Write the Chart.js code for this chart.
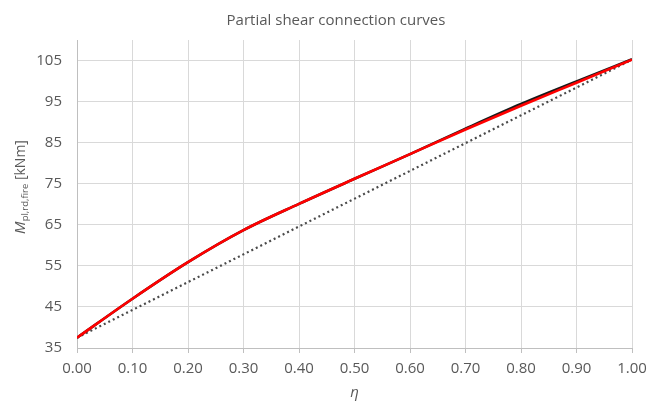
<!DOCTYPE html>
<html>
<head>
<meta charset="utf-8">
<script src="https://cdn.jsdelivr.net/npm/chart.js@4"></script>
<style>
  html, body { margin: 0; padding: 0; background: #fff; }
  #wrap { width: 650px; height: 405px; }
</style>
</head>
<body>
<div id="wrap"><canvas id="psc"></canvas></div>
<script>
const eta = [0.0, 0.1, 0.2, 0.3, 0.4, 0.5, 0.6, 0.7, 0.8, 0.9, 1.0]
const mRed = [37.5, 47.0, 55.9, 63.7, 70.1, 76.2, 82.2, 88.2, 94.0, 99.6, 105.2]
const mBlack = [37.5, 47.0, 55.9, 63.7, 70.1, 76.2, 82.2, 88.4, 94.4, 99.9, 105.3]
const etaLin = [0.0, 1.0]
const mLin = [37.5, 105.2]
const yTicks = [35, 45, 55, 65, 75, 85, 95, 105]

const grey = '#595959'
const fontFam = '"Open Sans", "Liberation Sans", sans-serif'

function pts(xs, ys) {
    return xs.map((x, i) => ({x: x, y: ys[i]}))
}

// title + axis titles (y title needs a subscript)
const labelsPlugin = {
    id: 'labels',
    afterDraw(chart) {
        const c = chart.ctx
        const a = chart.chartArea
        c.save()
        c.fillStyle = grey
        c.textBaseline = 'middle'
        c.textAlign = 'center'
        c.font = '15px ' + fontFam
        c.fillText('Partial shear connection curves', 336, 21)

        c.font = 'italic 15px ' + fontFam
        c.fillText('\u03B7', (a.left + a.right) / 2, 393)

        // rotated y title
        c.translate(21, 187)
        c.rotate(-Math.PI / 2)
        const p1 = 'M', p2 = 'pl,rd,fire', p3 = ' [kNm]'
        c.font = 'italic 15px ' + fontFam
        const w1 = c.measureText(p1).width
        c.font = '9.5px ' + fontFam
        const w2 = c.measureText(p2).width
        c.font = '14px ' + fontFam
        const w3 = c.measureText(p3).width
        let x = -(w1 + w2 + w3) / 2
        c.textAlign = 'left'
        c.font = 'italic 15px ' + fontFam
        c.fillText(p1, x, 0)
        x += w1
        c.font = '9.5px ' + fontFam
        c.fillText(p2, x, 4)
        x += w2
        c.font = '14px ' + fontFam
        c.fillText(p3, x, 0)
        c.restore()
    }
}

const ctx = document.getElementById('psc').getContext('2d')
new Chart(ctx, {
    type: 'line',
    data: {
        datasets: [{
            data: pts(eta, mRed),
            borderColor: '#ff0000',
            borderWidth: 2.6,
            pointRadius: 0,
            cubicInterpolationMode: 'monotone',
        }, {
            data: pts(eta, mBlack),
            borderColor: '#1a1a1a',
            borderWidth: 2.6,
            pointRadius: 0,
            cubicInterpolationMode: 'monotone',
        }, {
            data: pts(etaLin, mLin),
            borderColor: '#4a4a4a',
            borderWidth: 2.2,
            borderDash: [2, 3],
            pointRadius: 0,
        }]
    },
    options: {
        responsive: true,
        maintainAspectRatio: false,
        animation: false,
        plugins: {
            legend: {display: false},
            tooltip: {enabled: false},
            title: {display: false}
        },
        layout: {
            padding: {top: 40, right: 0, left: 0, bottom: 0}
        },
        scales: {
            x: {
                type: 'linear',
                min: 0,
                max: 1,
                afterFit(axis) {
                    axis.height = 57
                    axis.paddingRight = 18
                },
                ticks: {
                    stepSize: 0.1,
                    color: grey,
                    font: {family: fontFam, size: 15},
                    padding: 7,
                    maxRotation: 0,
                    callback: (v) => v.toFixed(2)
                },
                grid: {
                    color: '#d9d9d9',
                    tickColor: '#bfbfbf',
                    tickLength: 5
                },
                border: {color: '#bfbfbf'}
            },
            y: {
                min: 35,
                max: 110,
                afterFit(axis) { axis.width = 77 },
                afterBuildTicks(axis) {
                    axis.ticks = yTicks.map(v => ({value: v}))
                },
                ticks: {
                    color: grey,
                    font: {family: fontFam, size: 15},
                    padding: 15
                },
                grid: {
                    color: '#d9d9d9',
                    drawTicks: false
                },
                border: {color: '#bfbfbf'}
            }
        }
    },
    plugins: [labelsPlugin]
});
</script>
</body>
</html>
